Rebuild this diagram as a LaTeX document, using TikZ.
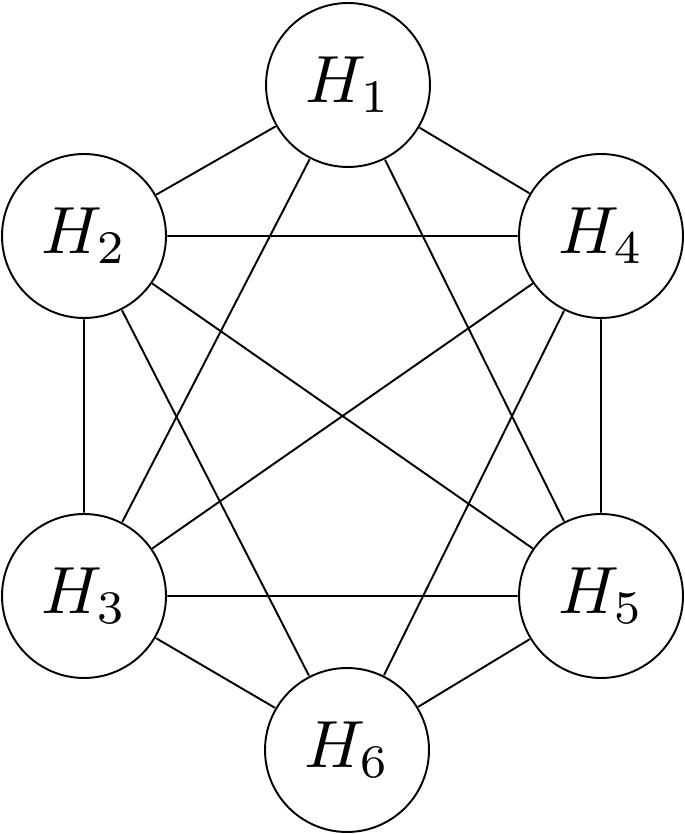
\documentclass[tikz,border=0pt]{standalone}
\begin{document}
\begin{tikzpicture}[line join=round, line cap=round, line width=0.55pt,
	vtx/.style={draw, circle, fill=white, scale=1.9, minimum size=0.863cm, inner sep=0pt}]
				\useasboundingbox (0,0) rectangle (6.85,8.34);
				\node[vtx] (h1) at (3.48,7.49) {$H_1$};
				\node[vtx] (h2) at (0.84,5.98) {$H_2$};
				\node[vtx] (h4) at (6.01,5.98) {$H_4$};
				\node[vtx] (h3) at (0.84,2.38) {$H_3$};
				\node[vtx] (h5) at (6.01,2.38) {$H_5$};
				\node[vtx] (h6) at (3.47,0.84) {$H_6$};
				\foreach \a/\b in {h1/h2,h1/h4,h1/h3,h1/h5,h2/h4,h2/h3,h2/h5,h2/h6,h4/h5,h4/h3,h4/h6,h3/h5,h3/h6,h5/h6} \draw (\a)--(\b);
			\end{tikzpicture}
\end{document}
